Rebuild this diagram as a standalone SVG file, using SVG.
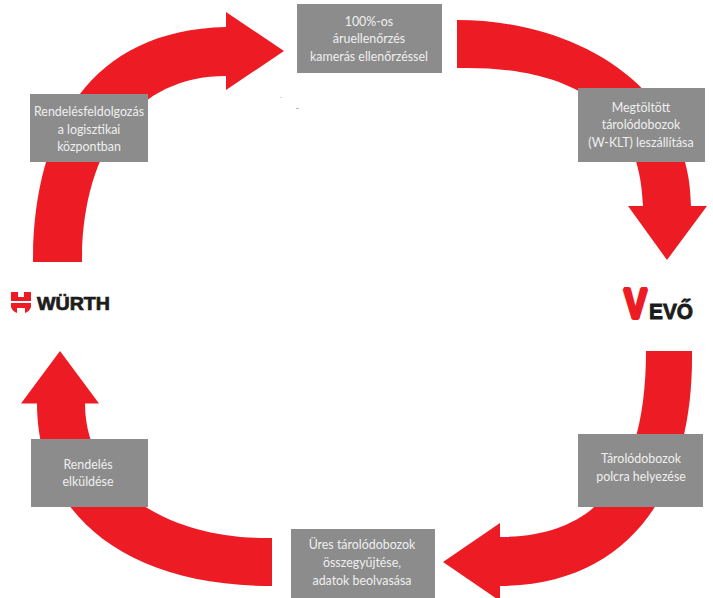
<svg xmlns="http://www.w3.org/2000/svg" width="713" height="598" viewBox="0 0 713 598">
<style>
.a{fill:#ed1c24}
.b{fill:#8c8c8c}
.t{font-family:"Lato","Liberation Sans",sans-serif;font-size:12.4px;fill:#efefef;text-anchor:middle}
.k{font-family:"Liberation Sans",Arial,sans-serif;font-weight:700}
</style>
<rect width="713" height="598" fill="#fff"/>
<g id="connectors">
<path class="a" d="M33 262C33 132 88 30 226 27V12L284 51L226 90V76C135 76 82 150 82 262Z"/>
<path class="a" d="M457 20C580 20 691 90 691 206H707L667 260L628 206H643C640 90 545 66 457 68Z"/>
<path class="a" d="M692 351C694 490 630 585 500 586V601L443 562L500 523V537C610 537 646 460 646 351Z"/>
<path class="a" d="M272 586C120 586 37 510 37 403.500H21L60 351L99 403.500H85C85 485 165 540 272 538Z"/>
</g>
<g id="node-top"><rect class="b" x="297" y="4" width="145" height="69"/><text class="t" x="369" y="26">100%-os</text><text class="t" x="369" y="43">áruellenőrzés</text><text class="t" x="369" y="61">kamerás ellenőrzéssel</text></g>
<g id="node-delivery"><rect class="b" x="578" y="88" width="127" height="74"/><text class="t" x="641" y="112">Megtöltött</text><text class="t" x="641" y="129">tárolódobozok</text><text class="t" x="641" y="147">(W-KLT) leszállítása</text></g>
<g id="node-shelf"><rect class="b" x="578" y="434" width="125" height="73"/><text class="t" x="641" y="463">Tárolódobozok</text><text class="t" x="641" y="481">polcra helyezése</text></g>
<g id="node-collect"><rect class="b" x="291" y="529" width="144" height="69"/><text class="t" x="362" y="549">Üres tárolódobozok</text><text class="t" x="362" y="567">összegyűjtése,</text><text class="t" x="362" y="585">adatok beolvasása</text></g>
<g id="node-order"><rect class="b" x="31" y="439" width="117" height="68"/><text class="t" x="88" y="469">Rendelés</text><text class="t" x="88" y="486">elküldése</text></g>
<g id="node-process"><rect class="b" x="30" y="94" width="118" height="68"/><text class="t" x="89" y="116">Rendelésfeldolgozás</text><text class="t" x="89" y="134">a logisztikai</text><text class="t" x="89" y="151">központban</text></g>
<g id="node-wurth">
<path class="a" d="M11 292H18V297H24V292H31V301H11ZM11 303H31V307C30 310 28 312 25 313V308H17V313C14 312 12 310 11 307Z"/>
<text class="k" x="37" y="310" font-size="18" fill="#1c1c1c" stroke="#1c1c1c" stroke-width="0.7" textLength="73" lengthAdjust="spacingAndGlyphs">WÜRTH</text>
</g>
<g id="node-vevo">
<text class="k" transform="translate(624 318) scale(0.82 1)" font-size="42" fill="#ed1c24" stroke="#ed1c24" stroke-width="3.8" stroke-linejoin="bevel">V</text>
<text class="k" x="649" y="319" font-size="22" fill="#1c1c1c" stroke="#1c1c1c" stroke-width="0.9" textLength="44" lengthAdjust="spacingAndGlyphs">EVŐ</text>
</g>
<rect x="280" y="97" width="2" height="1" fill="#ddd"/><rect x="296" y="108" width="3" height="1" fill="#bbb"/>
</svg>
